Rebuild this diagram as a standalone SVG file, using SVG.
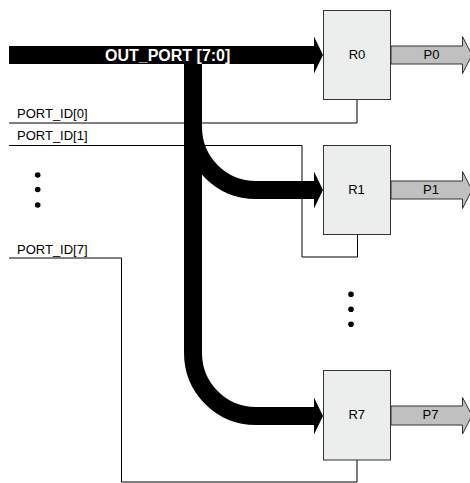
<svg xmlns="http://www.w3.org/2000/svg" width="470" height="483" viewBox="0 0 470 483">
<style>
.bus{fill:none;stroke:#000;stroke-width:18;stroke-linecap:butt}
.head{fill:#000}
.wire{fill:none;stroke:#000;stroke-width:1}
.reg{fill:#ECEDED;stroke:#333;stroke-width:1}
.out{fill:#C0C0C0;stroke:#333;stroke-width:1}
.lbl{font-family:"Liberation Sans",Arial,sans-serif;font-size:13px;fill:#000}
.mid{text-anchor:middle}
.busl{font-family:"Liberation Sans",Arial,sans-serif;font-size:16px;font-weight:bold;fill:#fff}
.dot{fill:#000}
</style>
<rect width="470" height="483" fill="#fff"/>
<g id="connectors">
  <path id="port_id0" class="wire" d="M9,123 H357 V100"/>
  <path id="port_id1" class="wire" d="M9,145.5 H302 V257 H357.5 V235"/>
  <path id="port_id7" class="wire" d="M9,258 H121.5 V482 H357 V460"/>
  <path id="bus_main" class="bus" d="M9,55 H314"/>
  <polygon class="head" points="314,36.5 323,55 314,73.5"/>
  <path id="bus_r7" class="bus" d="M193,55 V353 A63,63 0 0 0 256,416 H314"/>
  <polygon class="head" points="314,397.5 323,416 314,434.5"/>
  <path id="bus_r1" class="bus" d="M193,127 A63,63 0 0 0 256,190 H314"/>
  <polygon class="head" points="314,171.5 323,190 314,208.5"/>
  <text class="busl" x="105" y="60.5">OUT_PORT [7:0]</text>
</g>
<g id="labels">
  <text class="lbl" x="17" y="117.5">PORT_ID[0]</text>
  <text class="lbl" x="17" y="140">PORT_ID[1]</text>
  <text class="lbl" x="17" y="254">PORT_ID[7]</text>
  <circle class="dot" cx="37.7" cy="175" r="2.8"/>
  <circle class="dot" cx="37.7" cy="189.5" r="2.8"/>
  <circle class="dot" cx="37.7" cy="205" r="2.8"/>
  <circle class="dot" cx="351" cy="294.3" r="2.8"/>
  <circle class="dot" cx="351" cy="309.3" r="2.8"/>
  <circle class="dot" cx="351" cy="324.3" r="2.8"/>
</g>
<g id="R0">
  <rect class="reg" x="323.5" y="10.5" width="67" height="89"/>
  <text class="lbl mid" x="357" y="58.5">R0</text>
</g>
<g id="P0">
  <polygon class="out" points="391,46 462.5,46 462.5,36.5 472,55 462.5,73.5 462.5,64 391,64"/>
  <text class="lbl mid" x="431.5" y="58.5">P0</text>
</g>
<g id="R1">
  <rect class="reg" x="323.5" y="145.5" width="67" height="89"/>
  <text class="lbl mid" x="356.5" y="194">R1</text>
</g>
<g id="P1">
  <polygon class="out" points="391,181 462.5,181 462.5,171.5 472,190 462.5,208.5 462.5,199 391,199"/>
  <text class="lbl mid" x="431" y="194">P1</text>
</g>
<g id="R7">
  <rect class="reg" x="323.5" y="370.5" width="67" height="89.5"/>
  <text class="lbl mid" x="356.7" y="419">R7</text>
</g>
<g id="P7">
  <polygon class="out" points="391,406 462.5,406 462.5,397.5 472,415.5 462.5,434 462.5,425 391,425"/>
  <text class="lbl mid" x="430.5" y="418.5">P7</text>
</g>
</svg>
